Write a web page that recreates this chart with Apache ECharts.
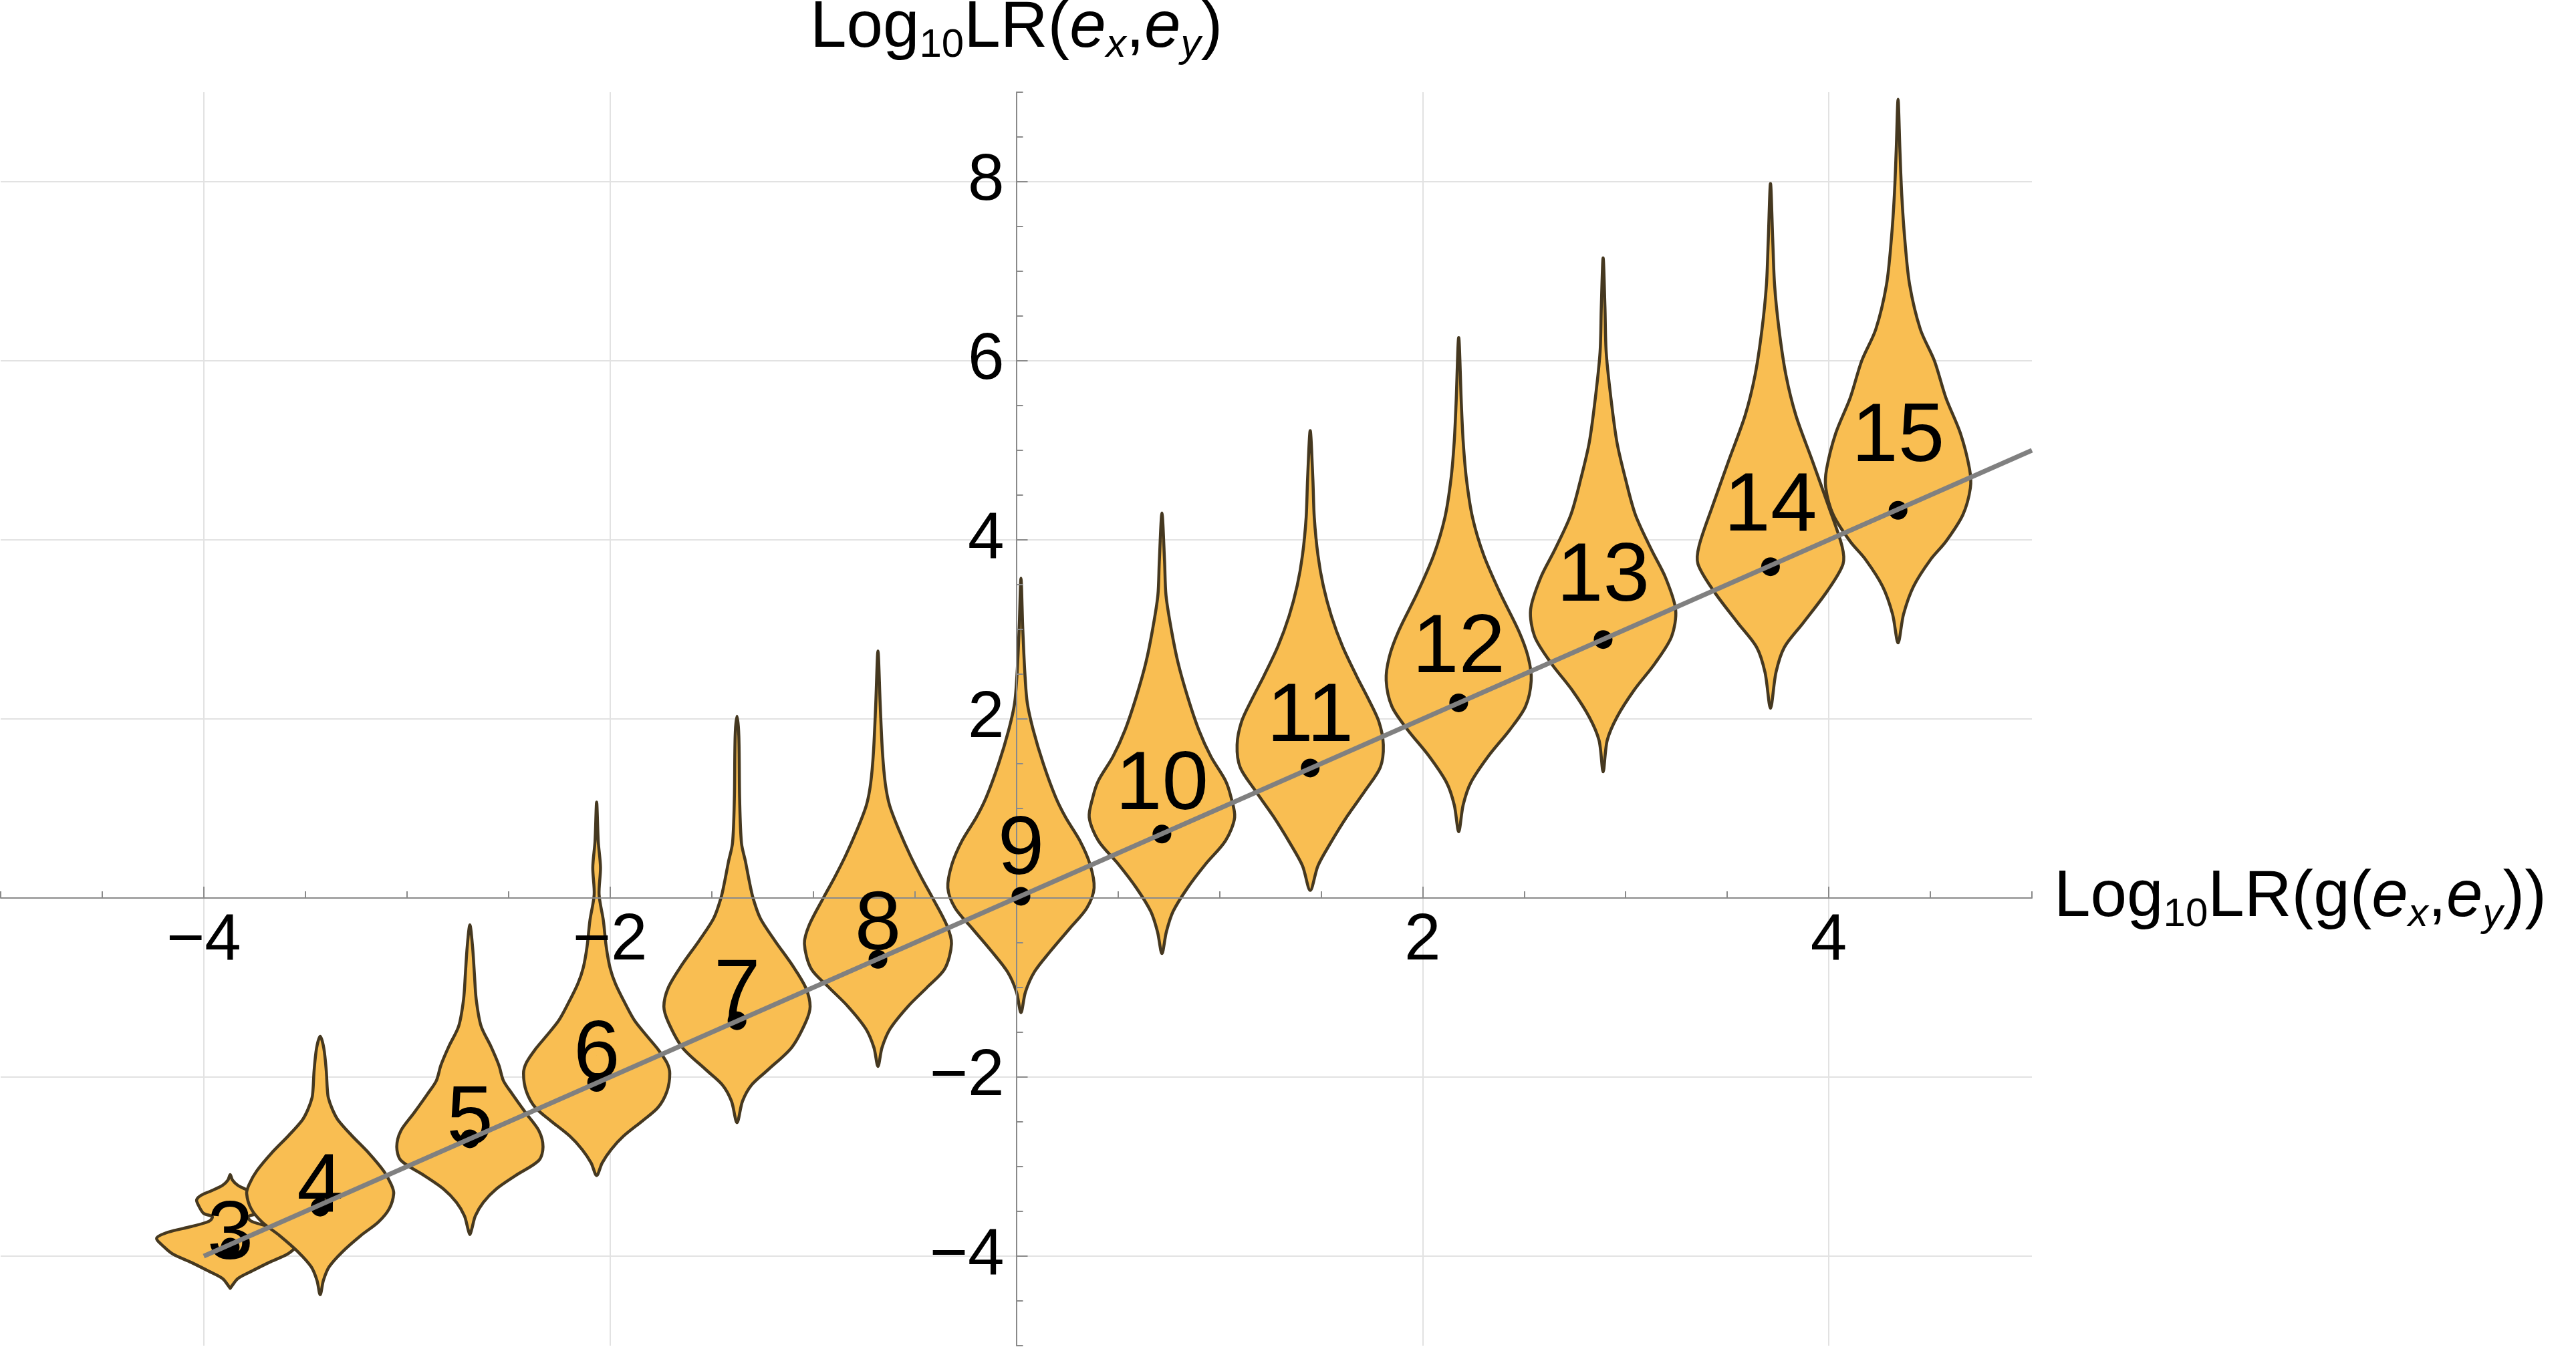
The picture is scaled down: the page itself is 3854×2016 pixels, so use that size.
<!DOCTYPE html>
<html>
<head>
    <meta charset="utf-8">
    <title>Violins</title>
    <script src="https://cdn.jsdelivr.net/npm/echarts@6/dist/echarts.min.js" type="text/javascript"></script>
    <style>
        html, body { margin: 0; padding: 0; background: #fff; }
    </style>
</head>
<body>
<div id="main" style="width: 3854px;height:2016px;"></div>
<script type="text/javascript">
    // one violin per count, placed at (centerX, median)
    var counts = [3, 4, 5, 6, 7, 8, 9, 10, 11, 12, 13, 14, 15];
    var centerX = [-3.87, -3.427, -2.69, -2.066, -1.375, -0.681, 0.023, 0.717, 1.447, 2.178, 2.889, 3.713, 4.341];
    var medianY = [-3.9, -3.453, -2.69, -2.06, -1.371, -0.685, 0.019, 0.714, 1.452, 2.18, 2.887, 3.70, 4.33];
    var labelY = [-3.77, -3.24, -2.49, -1.76, -1.07, -0.316, 0.526, 1.25, 2.01, 2.78, 3.58, 4.36, 5.14];

    // violin outlines, top to bottom: [y, half width in x units]
    var v3 = [[-3.09,0],[-3.15,0.011],[-3.21,0.038],[-3.27,0.093],[-3.32,0.143],[-3.37,0.165],[-3.42,0.159],[-3.52,0.132],[-3.56,0.088],[-3.61,0.104],[-3.67,0.192],[-3.73,0.302],[-3.80,0.362],[-3.90,0.324],[-3.98,0.28],[-4.07,0.192],[-4.17,0.104],[-4.25,0.038],[-4.34,0.006],[-4.36,0]];
    var v4 = [[-1.545,0],[-1.68,0.018],[-1.93,0.03],[-2.13,0.035],[-2.23,0.04],[-2.36,0.06],[-2.48,0.088],[-2.65,0.154],[-2.85,0.24],[-3.05,0.313],[-3.20,0.35],[-3.30,0.362],[-3.47,0.34],[-3.62,0.286],[-3.77,0.2],[-3.95,0.11],[-4.12,0.044],[-4.27,0.016],[-4.43,0]];
    var v5 = [[-0.30,0],[-0.54,0.013],[-0.84,0.022],[-1.13,0.031],[-1.43,0.055],[-1.66,0.104],[-1.87,0.143],[-2.04,0.165],[-2.19,0.209],[-2.40,0.275],[-2.60,0.34],[-2.78,0.36],[-2.93,0.34],[-3.10,0.225],[-3.25,0.13],[-3.40,0.066],[-3.55,0.027],[-3.70,0.009],[-3.76,0]];
    var v6 = [[1.07,0],[0.63,0.008],[0.34,0.019],[0.04,0.012],[-0.25,0.033],[-0.54,0.047],[-0.78,0.066],[-0.96,0.093],[-1.19,0.143],[-1.37,0.187],[-1.54,0.247],[-1.69,0.302],[-1.84,0.346],[-1.96,0.36],[-2.16,0.346],[-2.34,0.302],[-2.49,0.225],[-2.66,0.132],[-2.81,0.071],[-2.96,0.027],[-3.10,0]];
    var v7 = [[2.03,0],[1.81,0.009],[1.107,0.013],[0.615,0.022],[0.404,0.042],[0.193,0.06],[0,0.079],[-0.228,0.115],[-0.475,0.186],[-0.756,0.274],[-1.00,0.338],[-1.213,0.36],[-1.388,0.338],[-1.67,0.269],[-1.916,0.154],[-2.09,0.071],[-2.27,0.027],[-2.51,0]];
    var v8 = [[2.76,0],[2.16,0.011],[1.634,0.022],[1.28,0.036],[1.037,0.057],[0.756,0.104],[0.475,0.159],[0.228,0.214],[0,0.269],[-0.3,0.338],[-0.51,0.362],[-0.79,0.329],[-1.00,0.241],[-1.21,0.148],[-1.46,0.06],[-1.67,0.02],[-1.88,0]];
    var v9 = [[3.57,0],[3.00,0.009],[2.52,0.019],[2.18,0.031],[1.88,0.06],[1.50,0.11],[1.13,0.17],[0.90,0.22],[0.64,0.29],[0.376,0.34],[0.113,0.36],[-0.113,0.324],[-0.338,0.241],[-0.60,0.143],[-0.826,0.066],[-1.05,0.022],[-1.28,0]];
    var v10 = [[4.30,0],[3.756,0.013],[3.38,0.02],[3.00,0.046],[2.63,0.079],[2.25,0.126],[1.88,0.181],[1.58,0.241],[1.31,0.313],[1.127,0.34],[0.90,0.358],[0.64,0.313],[0.376,0.214],[0.113,0.126],[-0.15,0.055],[-0.376,0.022],[-0.62,0]];
    var v11 = [[5.22,0],[4.68,0.013],[4.25,0.02],[3.83,0.038],[3.49,0.064],[3.15,0.104],[2.81,0.159],[2.48,0.228],[2.22,0.287],[1.97,0.338],[1.71,0.36],[1.46,0.345],[1.21,0.274],[0.91,0.181],[0.61,0.099],[0.36,0.038],[0.085,0]];
    var v12 = [[6.26,0],[5.52,0.013],[5.10,0.022],[4.68,0.038],[4.25,0.068],[3.83,0.123],[3.41,0.203],[2.98,0.296],[2.69,0.342],[2.43,0.357],[2.14,0.329],[1.88,0.252],[1.59,0.148],[1.29,0.06],[1.04,0.022],[0.74,0]];
    var v13 = [[7.15,0],[6.60,0.009],[6.10,0.015],[5.59,0.038],[5.09,0.068],[4.69,0.109],[4.28,0.159],[3.88,0.24],[3.58,0.307],[3.22,0.357],[2.92,0.337],[2.62,0.255],[2.32,0.152],[2.02,0.068],[1.76,0.02],[1.41,0]];
    var v14 = [[7.98,0],[7.35,0.011],[6.85,0.02],[6.35,0.042],[5.84,0.076],[5.39,0.125],[4.89,0.205],[4.38,0.285],[3.93,0.352],[3.73,0.357],[3.43,0.28],[3.07,0.16],[2.80,0.068],[2.52,0.027],[2.12,0]];
    var v15 = [[8.92,0],[8.36,0.009],[7.86,0.018],[7.36,0.033],[6.85,0.057],[6.35,0.11],[6.00,0.179],[5.59,0.235],[5.19,0.307],[4.79,0.352],[4.58,0.356],[4.28,0.319],[3.98,0.235],[3.78,0.16],[3.48,0.076],[3.17,0.027],[2.85,0]];
    var profiles = [v3, v4, v5, v6, v7, v8, v9, v10, v11, v12, v13, v14, v15];

    // reference line y = x
    var lineX = [-4, 5];
    var lineY = [-4, 5];

    var xTicks = [-4, -2, 2, 4];
    var yTicks = [-4, -2, 2, 4, 6, 8];

    var xMin = -5, xMax = 5, yMin = -5, yMax = 9;
    var gridW = 3039, gridH = 1876;
    // axes are moved onto the zero lines with offsets
    var xAxisOffset = -(0 - yMin) / (yMax - yMin) * gridH;
    var yAxisOffset = -(0 - xMin) / (xMax - xMin) * gridW;

    var font = "'Liberation Sans', Arial, sans-serif";
    var axisGray = '#8a8a8a';
    var gridGray = '#e2e2e2';

    function minusLabel(v) {
        return v < 0 ? '\u2212' + Math.abs(v) : String(v);
    }

    var richName = {
        n: {fontSize: 98, fontFamily: font, color: '#000'},
        i: {fontSize: 98, fontFamily: font, fontStyle: 'italic', color: '#000'},
        s: {fontSize: 60, fontFamily: font, color: '#000', padding: [50, 0, 0, 0]},
        si: {fontSize: 60, fontFamily: font, fontStyle: 'italic', color: '#000', padding: [50, 0, 0, 0]}
    };

    // grid lines only (drawn under the violins)
    function gridAxis(min, max, ticks, pos) {
        return {
            type: 'value', min: min, max: max, position: pos, z: 0,
            axisLine: {show: false, onZero: false},
            axisTick: {show: false, customValues: ticks},
            axisLabel: {show: false},
            splitLine: {show: true, lineStyle: {color: gridGray, width: 2}}
        };
    }
    // axis line, major ticks, labels (drawn over the violins)
    function mainAxis(min, max, ticks, pos, offset, margin, name, gap) {
        return {
            type: 'value', min: min, max: max, position: pos, offset: offset, z: 3,
            axisLine: {onZero: false, lineStyle: {color: axisGray, width: 2}},
            axisTick: {inside: true, length: 17, customValues: ticks, lineStyle: {color: axisGray, width: 2}},
            axisLabel: {customValues: ticks, formatter: minusLabel, fontSize: 98, fontFamily: font, color: '#000', margin: margin},
            splitLine: {show: false},
            name: name,
            nameLocation: 'end',
            nameGap: gap,
            nameTextStyle: {fontSize: 98, fontFamily: font, color: '#000', rich: richName}
        };
    }
    // minor ticks every 0.5
    function minorAxis(min, max, pos, offset) {
        return {
            type: 'value', min: min, max: max, interval: 0.5, position: pos, offset: offset, z: 3,
            axisLine: {show: false, onZero: false},
            axisTick: {inside: true, length: 10, lineStyle: {color: axisGray, width: 2}},
            axisLabel: {show: false},
            splitLine: {show: false}
        };
    }

    var violinData = [];
    var dotData = [];
    var labelData = [];
    for (var i = 0; i < counts.length; i++) {
        violinData.push([centerX[i], medianY[i], i]);
        dotData.push([centerX[i], medianY[i]]);
        labelData.push([centerX[i], labelY[i]]);
    }
    var lineData = lineX.map(function (x, k) { return [x, lineY[k]]; });

    var myChart = echarts.init(document.getElementById('main'));
    var option = {
        animation: false,
        backgroundColor: '#ffffff',
        grid: {left: 1, top: 138, width: gridW, height: gridH, containLabel: false, outerBoundsMode: 'none'},
        xAxis: [
            gridAxis(xMin, xMax, xTicks, 'bottom'),
            mainAxis(xMin, xMax, xTicks, 'bottom', xAxisOffset, 16,
                '{n|Log}{s|10}{n|LR(g(}{i|e}{si|x}{n|,}{i|e}{si|y}{n|))}', 33),
            minorAxis(xMin, xMax, 'bottom', xAxisOffset)
        ],
        yAxis: [
            gridAxis(yMin, yMax, yTicks, 'left'),
            mainAxis(yMin, yMax, yTicks, 'left', yAxisOffset, 18,
                '{n|Log}{s|10}{n|LR(}{i|e}{si|x}{n|,}{i|e}{si|y}{n|)}', 40),
            minorAxis(yMin, yMax, 'left', yAxisOffset)
        ],
        series: [{
            type: 'custom',
            xAxisIndex: 0,
            yAxisIndex: 0,
            z: 2,
            silent: true,
            data: violinData,
            renderItem: function (params, api) {
                var cx = api.value(0);
                var prof = profiles[api.value(2)];
                var pts = [];
                var k;
                for (k = 0; k < prof.length; k++) {
                    pts.push(api.coord([cx + prof[k][1], prof[k][0]]));
                }
                for (k = prof.length - 2; k > 0; k--) {
                    pts.push(api.coord([cx - prof[k][1], prof[k][0]]));
                }
                return {
                    type: 'polygon',
                    shape: {points: pts, smooth: 0.3},
                    style: {fill: '#f9be52', stroke: '#453820', lineWidth: 4.5}
                };
            }
        }, {
            type: 'scatter',
            xAxisIndex: 0,
            yAxisIndex: 0,
            z: 4,
            silent: true,
            symbolSize: 28,
            itemStyle: {color: '#000', opacity: 1},
            data: dotData
        }, {
            type: 'scatter',
            xAxisIndex: 0,
            yAxisIndex: 0,
            z: 5,
            silent: true,
            symbolSize: 0.1,
            itemStyle: {color: '#000', opacity: 1},
            label: {
                show: true,
                position: 'inside',
                fontSize: 125,
                fontFamily: font,
                color: '#000',
                opacity: 1,
                textBorderWidth: 0,
                formatter: function (p) { return String(counts[p.dataIndex]); }
            },
            data: labelData
        }, {
            type: 'line',
            xAxisIndex: 0,
            yAxisIndex: 0,
            z: 6,
            silent: true,
            showSymbol: false,
            lineStyle: {color: '#808080', width: 7},
            data: lineData
        }]
    };
    myChart.setOption(option);
</script>
</body>
</html>
